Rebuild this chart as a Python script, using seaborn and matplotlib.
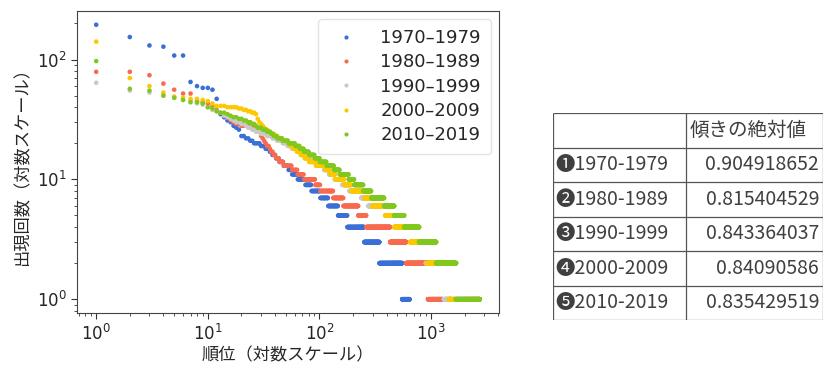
import numpy as np
import pandas as pd
import matplotlib
matplotlib.use("Agg")
import matplotlib.pyplot as plt
import seaborn as sns

# ---------------- data ----------------
periods = ["1970–1979", "1980–1989", "1990–1999", "2000–2009", "2010–2019"]
colors = ["#3a6fd8", "#f86a4e", "#c9c9c9", "#fcc800", "#80c81e"]

# integer frequency levels used for run-length counts (45 down to 1)
levels = [45, 44, 43, 42, 41, 40, 39, 38, 37, 36, 35, 34, 33, 32, 31,
          30, 29, 28, 27, 26, 25, 24, 23, 22, 21, 20, 19, 18, 17, 16,
          15, 14, 13, 12, 11, 10, 9, 8, 7, 6, 5, 4, 3, 2, 1]

# highest-ranked words (frequency > 45), one value per rank
top_1970 = [195, 154, 131, 128, 108, 108, 65, 60, 58, 58, 56, 47]
top_1980 = [79, 79, 74, 63, 56, 52, 52]
top_1990 = [64, 55, 53, 50, 48, 46]
top_2000 = [141, 70, 60, 53, 49, 48, 47, 47, 46]
top_2010 = [97, 57, 55, 50, 48, 46]

# number of words having each frequency in `levels`
cnt_1970 = [0, 0, 0, 0, 0, 0, 0, 0, 0, 0, 1, 0, 1, 0, 1,
            1, 0, 1, 1, 1, 0, 0, 2, 2, 2, 4, 3, 3, 2, 3,
            3, 4, 5, 4, 7, 11, 10, 17, 18, 27, 31, 74, 93, 206, 90]
cnt_1980 = [1, 1, 1, 0, 1, 0, 0, 1, 0, 1, 0, 1, 1, 0, 1,
            1, 2, 4, 4, 2, 0, 0, 1, 1, 1, 1, 2, 1, 2, 2,
            3, 4, 9, 7, 9, 19, 10, 31, 31, 59, 40, 167, 168, 342, 341]
cnt_1990 = [1, 0, 1, 1, 0, 1, 0, 1, 1, 1, 0, 1, 1, 1, 1,
            2, 2, 1, 2, 2, 3, 4, 4, 4, 5, 5, 5, 6, 7, 8,
            9, 10, 13, 12, 15, 23, 25, 52, 37, 121, 80, 185, 240, 406, 195]
cnt_2000 = [1, 0, 1, 0, 3, 4, 2, 2, 2, 2, 1, 0, 0, 1, 0,
            1, 1, 1, 1, 2, 2, 3, 3, 4, 6, 2, 4, 4, 5, 6,
            7, 12, 20, 12, 14, 28, 26, 59, 45, 91, 80, 181, 272, 527, 253]
cnt_2010 = [0, 2, 1, 0, 0, 1, 1, 0, 1, 2, 1, 1, 2, 2, 2,
            2, 2, 1, 3, 3, 3, 2, 3, 5, 6, 8, 6, 6, 8, 10,
            10, 15, 19, 17, 31, 22, 42, 44, 89, 88, 106, 207, 328, 563, 1059]

# table on the right
table_header = ["", "傾きの絶対値"]
table_rows = ["❶1970-1979", "❷1980-1989", "❸1990-1999", "❹2000-2009", "❺2010-2019"]
table_vals = ["0.904918652", "0.815404529", "0.843364037", "0.84090586", "0.835429519"]

x_label = "順位（対数スケール）"
y_label = "出現回数（対数スケール）"

# ---------------- build long table ----------------
tops = [top_1970, top_1980, top_1990, top_2000, top_2010]
cnts = [cnt_1970, cnt_1980, cnt_1990, cnt_2000, cnt_2010]
frames = []
for p, t, c in zip(periods, tops, cnts):
    f = np.concatenate([np.array(t, dtype=float), np.repeat(levels, c).astype(float)])
    frames.append(pd.DataFrame({"rank": np.arange(1, len(f) + 1), "freq": f, "period": p}))
df = pd.concat(frames, ignore_index=True)

# ---------------- figure ----------------
plt.rcParams["font.family"] = ["DejaVu Sans", "Noto Sans CJK JP"]
fig = plt.figure(figsize=(8.4, 3.68), dpi=100)
ax = fig.add_axes([77 / 840, 1 - 313 / 368, 422 / 840, 302 / 368])

sns.scatterplot(data=df, x="rank", y="freq", hue="period", hue_order=periods,
                palette=colors, s=11, linewidth=0, ax=ax, legend=True)
ax.set_xscale("log")
ax.set_yscale("log")
ax.set_xlim(0.673, 4060)
ax.set_ylim(0.768, 254)

cjk = ["Noto Sans CJK JP", "DejaVu Sans"]
ax.set_xlabel(x_label, fontsize=12.4, family=cjk, color="#262626", labelpad=2)
ax.set_ylabel(y_label, fontsize=12.4, family=cjk, color="#262626", labelpad=4)
ax.tick_params(axis="both", which="major", labelsize=12, length=4, color="#333333",
               labelcolor="#262626")
ax.tick_params(axis="both", which="minor", length=2, color="#333333")
for sp in ax.spines.values():
    sp.set_color("#444444")

handles, labels = ax.get_legend_handles_labels()
leg = ax.legend(handles, labels, loc="upper right", fontsize=13, labelspacing=0.35,
                handletextpad=0.9, borderpad=0.55, markerscale=0.9, frameon=True,
                borderaxespad=0.45)
leg.get_frame().set_edgecolor("#dddddd")
for t in leg.get_texts():
    t.set_color("#262626")

# ---------------- table ----------------
tx = fig.add_axes([553 / 840, 1 - 320 / 368, 270 / 840, 207 / 368])
tx.set_xlim(0, 270)
tx.set_ylim(207, 0)
tx.axis("off")
nrows = 1 + len(table_rows)
rh = 207 / nrows
lc = "#555555"
for i in range(nrows + 1):
    tx.plot([0, 270], [i * rh, i * rh], color=lc, lw=0.9, solid_capstyle="butt")
for xx in (0, 133, 270):
    tx.plot([xx, xx], [0, 207], color=lc, lw=0.9, solid_capstyle="butt")
tfont = dict(family=cjk, fontsize=14, color="#404040", va="center")
tx.text(137, rh * 0.5, table_header[1], ha="left", **tfont)
for i, (lab, val) in enumerate(zip(table_rows, table_vals)):
    yc = rh * (i + 1.5)
    tx.text(2, yc, lab, ha="left", **tfont)
    tx.text(266, yc, val, ha="right", **tfont)

fig.savefig("out.png", dpi=100)
